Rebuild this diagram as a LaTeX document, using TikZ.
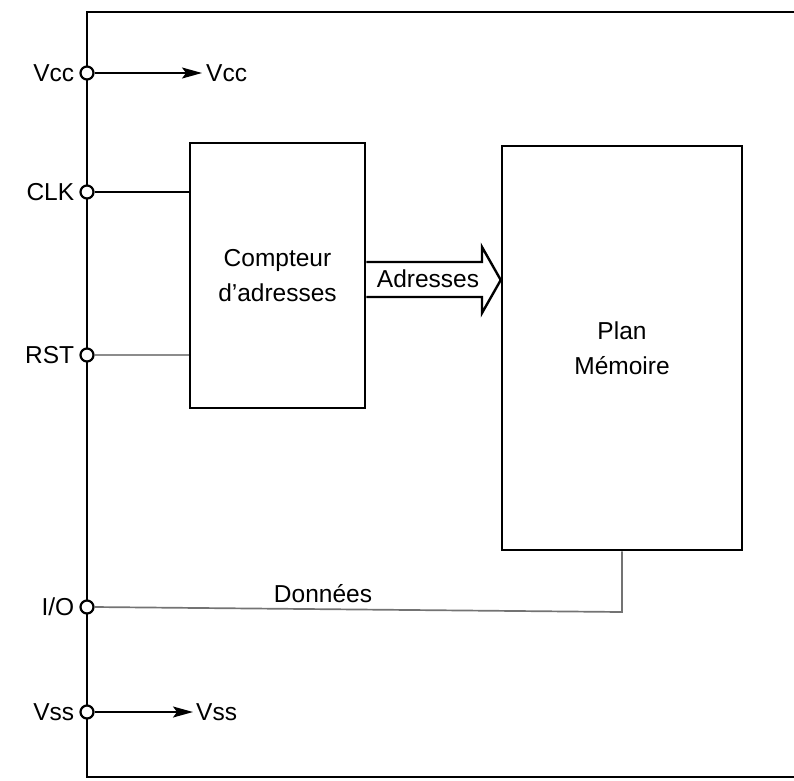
\documentclass[tikz,border=0pt]{standalone}
\usepackage{fontspec}
\setmainfont{Liberation Sans}
\usetikzlibrary{arrows.meta,calc}
\begin{document}
\begin{tikzpicture}[x=1pt,y=-1pt,
  every node/.style={font=\fontsize{24.5}{35}\selectfont},
  frame/.style={line width=2.8pt},
  boxnode/.style={draw,line width=2.5pt,rectangle,align=center,inner sep=0pt},
  pinc/.style={circle,draw,line width=2.2pt,fill=white,minimum size=13pt,inner sep=0pt},
  pinlabel/.style={anchor=east,inner sep=5pt},
  wire/.style={line width=1.6pt},
  greywire/.style={line width=1.7pt,draw=black!55},
  faintwire/.style={line width=1.3pt,draw=black!45},
  outarrow/.style={line width=1.6pt,-{Stealth[length=20pt,width=11pt,inset=4pt]}}]
\useasboundingbox (0,0) rectangle (794,780);
% outer frame
\draw[frame] (794,12) -- (87,12) -- (87,777) -- (794,777);
% blocks
\node[boxnode,minimum width=175pt,minimum height=265pt] (comp) at (277.5,275.5) {Compteur\\d'adresses};
\node[boxnode,minimum width=240pt,minimum height=404pt] (mem) at (622,348) {Plan\\Mémoire};
% pins
\node[pinc] (vcc) at (87,73) {};
\node[pinc] (clk) at (87,192) {};
\node[pinc] (rst) at (87,355) {};
\node[pinc] (io) at (87,607) {};
\node[pinc] (vss) at (87,712) {};
\node[pinlabel] at (vcc.west) {Vcc};
\node[pinlabel] at (clk.west) {CLK};
\node[pinlabel] at (rst.west) {RST};
\node[pinlabel] at (io.west) {I/O};
\node[pinlabel] at (vss.west) {Vss};
% power outputs
\coordinate (vccend) at (202,73);
\coordinate (vssend) at (193,712);
\draw[outarrow] (vcc.east) -- (vccend);
\draw[outarrow] (vss.east) -- (vssend);
\node[anchor=west,inner sep=4pt] (vccout) at (vccend) {Vcc};
\node[anchor=west,inner sep=3pt] (vssout) at (vssend) {Vss};
% clock and reset
\draw[wire] (clk.east) -- (comp.west |- clk);
\draw[faintwire] (rst.east) -- (comp.west |- rst);
% address bus (fat arrow)
\coordinate (a0) at ($(comp.east)+(0,-13.5)$);
\coordinate (a1) at ($(comp.east)+(0,21.5)$);
\draw[line width=2.4pt,fill=white,line join=miter]
  (a0) -- (482,262) -- (482,247) -- (mem.west |- 0,280) -- (482,313) -- (482,297) -- (a1);
\node (adr) at (428,279) {Adresses};
% data line
\coordinate (dcorner) at (622,612);
\draw[greywire] (io.east) -- (dcorner) -- (mem.south);
\node (don) at (323,594) {Données};
\end{tikzpicture}
\end{document}
